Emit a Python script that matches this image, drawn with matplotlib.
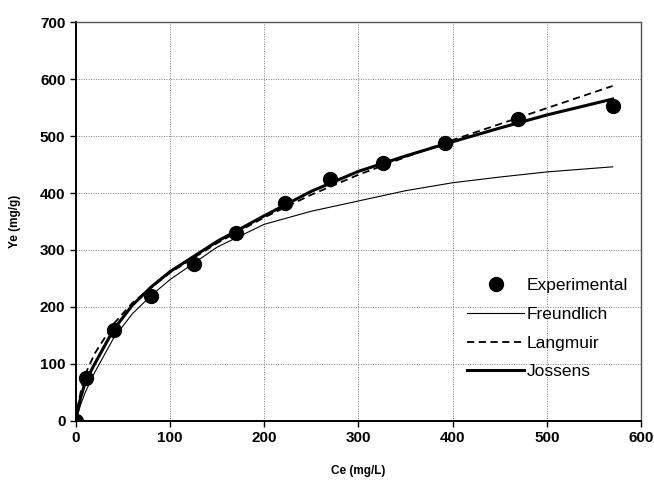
import matplotlib.pyplot as plt

plt.rcParams['font.family'] = ['Liberation Sans', 'DejaVu Sans']

# experimental points
ce_exp = [0, 11, 40, 80, 125, 170, 222, 270, 326, 392, 470, 570]
ye_exp = [0, 75, 160, 220, 275, 330, 382, 425, 453, 488, 530, 553]

# model curves
ce_fit = [0, 2, 5, 10, 20, 40, 60, 80, 100, 150, 200, 250, 300, 350, 400, 450, 500, 570]
ye_freundlich = [0, 12, 28, 50, 85, 145, 188, 220, 248, 305, 345, 368, 386, 404, 418, 428, 437, 446]
ye_langmuir = [0, 25, 50, 82, 118, 170, 207, 234, 260, 312, 357, 397, 432, 463, 493, 521, 549, 588]
ye_jossens = [0, 18, 40, 68, 100, 160, 203, 235, 262, 315, 360, 403, 438, 465, 490, 514, 537, 565]

fig = plt.figure(figsize=(6.54, 4.82), dpi=100)
ax = fig.add_axes([0.116, 0.127, 0.864, 0.827])

ax.plot(ce_fit, ye_freundlich, color='black', lw=0.8, label='Freundlich')
ax.plot(ce_fit, ye_langmuir, color='black', lw=1.3, ls=(0, (4, 2.5)), label='Langmuir')
ax.plot(ce_fit, ye_jossens, color='black', lw=2.2, label='Jossens')
ax.plot(ce_exp, ye_exp, 'o', color='black', ms=10, label='Experimental', zorder=5)

ax.set_xlim(0, 600)
ax.set_ylim(0, 700)
ax.set_xticks(range(0, 601, 100))
ax.set_yticks(range(0, 701, 100))
ax.grid(True, color='gray', ls=(0, (1, 1.5)), lw=0.7)
ax.set_axisbelow(True)

for s in ['left', 'bottom']:
    ax.spines[s].set_linewidth(1.4)
for s in ['top', 'right']:
    ax.spines[s].set_color('#555555')
    ax.spines[s].set_linewidth(1.0)

ax.tick_params(direction='out', length=4, width=1, labelsize=11)
for lbl in ax.get_xticklabels() + ax.get_yticklabels():
    lbl.set_fontweight('bold')

ax.set_xlabel('Ce (mg/L)', fontsize=8.5, fontweight='bold', labelpad=14)
ax.set_ylabel('Ye (mg/g)', fontsize=8.5, fontweight='bold', labelpad=14)

h, l = ax.get_legend_handles_labels()
order = [3, 0, 1, 2]
ax.legend([h[i] for i in order], [l[i] for i in order], frameon=False,
          fontsize=12.5, loc='upper left', bbox_to_anchor=(0.68, 0.375),
          handlelength=3.3, handletextpad=0.15, labelspacing=0.78, borderaxespad=0)

fig.savefig('out.png', dpi=100)
